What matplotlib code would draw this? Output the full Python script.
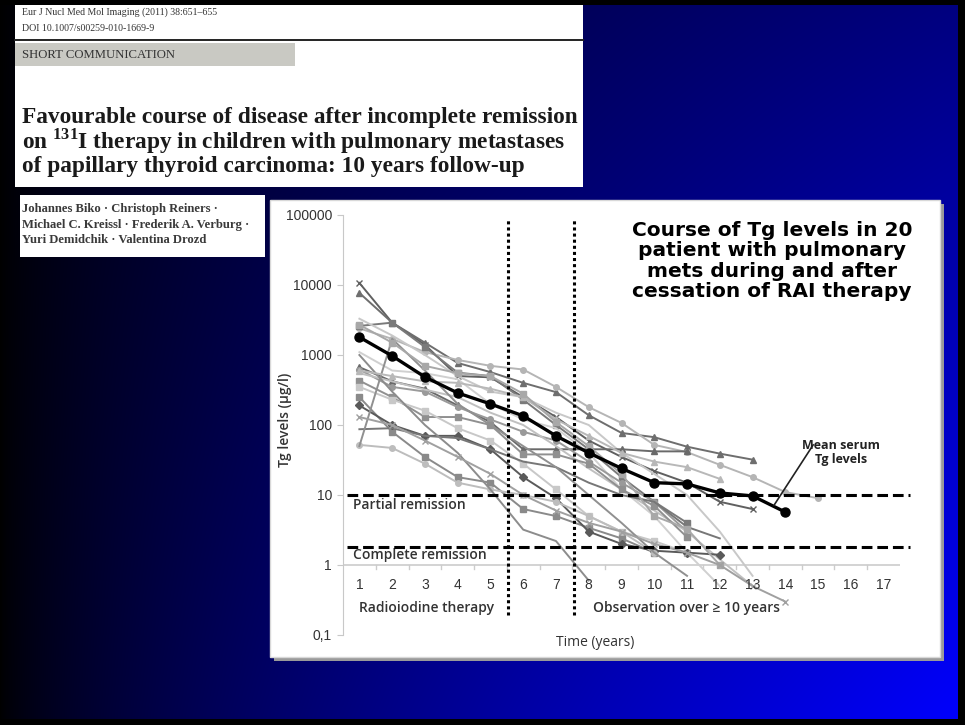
import numpy as np
import matplotlib

matplotlib.use("Agg")
import matplotlib.pyplot as plt
from matplotlib.patches import Rectangle

W, H = 965, 725

# mean serum Tg (black line), years 1..14
mean_years = list(range(1, 15))
mean_tg = [1800, 970, 485, 287, 200, 135, 70, 40, 24, 15, 14.4, 10.7, 9.7, 5.7]

# individual patients, value per year starting at year 1
p01 = [10700, 2900, 1400, 500, 480, 250, 130, 60, 35, 22, 15, 8, 6.3]
p02 = [7700, 2900, 1500, 770, 570, 400, 295, 138, 77, 67, 49, 39, 32]
p03 = [2400, 1700, 1100, 850, 700, 620, 350, 180, 107, 52, 41, 27, 18, 11, 9]
p04 = [2600, 2900, 1300, 560, 500, 230, 100, 45, 18, 8, 4]
p05 = [3300, 1900, 1000, 500, 300, 250, 150, 100, 40, 20, 10, 3, 0.7]
p06 = [1100, 600, 550, 450, 200, 120, 90, 40, 12, 5, 1.5, 0.5]
p07 = [670, 420, 330, 190, 110, 45, 45, 45, 45, 42, 42]
p08 = [620, 350, 300, 180, 120, 80, 60, 30, 15, 8, 3]
p09 = [550, 420, 320, 250, 150, 100, 50, 24, 12, 6, 3, 1.2, 0.5]
p10 = [430, 250, 130, 130, 100, 38, 38, 28, 12, 7, 2.5]
p11 = [350, 230, 160, 90, 60, 28, 12, 5, 3, 2.2, 1.5]
p12 = [250, 80, 35, 18, 15, 6.3, 5, 3.4, 2.4, 1.5]
p13 = [190, 100, 70, 70, 45, 18, 9, 3, 2, 1.6, 1.5, 1.4]
p14 = [87, 90, 70, 65, 45, 30, 25, 15, 10, 8, 3.5, 2.4]
p15 = [52, 47, 28, 15, 12, 10, 8, 5, 3, 1.5]
p16 = [50, 1700, 600, 200, 100, 50, 25, 10, 4, 1.5, 0.7]
p17 = [1000, 300, 100, 40, 12, 3.2, 2.2, 0.6]
p18 = [600, 500, 420, 400, 330, 250, 120, 70, 40, 30, 25, 17]
p19 = [2700, 1500, 700, 550, 500, 280, 110, 50, 20, 5, 3.3, 1.0]
p20 = [130, 100, 60, 35, 20, 10, 6, 4, 3, 2, 1.5, 1.0, 0.5, 0.3]
patients = [p01, p02, p03, p04, p05, p06, p07, p08, p09, p10,
            p11, p12, p13, p14, p15, p16, p17, p18, p19, p20]
patient_colors = ["#606060", "#6e6e6e", "#b5b5b5", "#7a7a7a", "#c8c8c8",
                  "#d0d0d0", "#6a6a6a", "#9a9a9a", "#c0c0c0", "#909090",
                  "#c8c8c8", "#8a8a8a", "#5a5a5a", "#777777", "#bdbdbd",
                  "#909090", "#8c8c8c", "#b8b8b8", "#a8a8a8", "#a0a0a0"]
patient_markers = ["x", "^", "o", "s", "", "", "^", "o", "", "s",
                   "s", "s", "D", "", "o", "", "", "^", "s", "x"]

ytick_vals = [0.1, 1, 10, 100, 1000, 10000, 100000]
ytick_labels = ["0,1", "1", "10", "100", "1000", "10000", "100000"]
xtick_vals = list(range(1, 18))

fig = plt.figure(figsize=(W / 100, H / 100), dpi=100)

# slide background: black to blue gradient, drawn in pixel coordinates
bg = fig.add_axes([0, 0, 1, 1])
gx, gy = np.meshgrid(np.linspace(0, 1, W), np.linspace(0, 1, H))
blue = np.clip((gx ** 0.7) * (0.5 + 0.5 * gy), 0, 1)
img = np.zeros((H, W, 3))
img[..., 2] = blue
img[:5, :, :] = 0
img[:, 958:, :] = 0
img[719:, :, :] = 0
bg.imshow(img, extent=(0, W, H, 0), aspect="auto")
bg.set_xlim(0, W)
bg.set_ylim(H, 0)
bg.axis("off")

serif = "Liberation Serif"
sans = "Liberation Sans"
plt.rcParams["mathtext.fontset"] = "custom"
plt.rcParams["mathtext.rm"] = serif
plt.rcParams["mathtext.bf"] = serif + ":bold"

# article header box
bg.add_patch(Rectangle((15, 5), 568, 182, facecolor="white", edgecolor="none"))
bg.text(22, 12, "Eur J Nucl Med Mol Imaging (2011) 38:651\u2013655", fontsize=7.1,
        family=serif, color="#333333", va="center")
bg.text(22, 28, "DOI 10.1007/s00259-010-1669-9", fontsize=7.1, family=serif,
        color="#333333", va="center")
bg.plot([15, 583], [40, 40], color="#222222", lw=1.4)
bg.add_patch(Rectangle((15, 43), 280, 23, facecolor="#c9c9c3", edgecolor="none"))
bg.text(22, 55, "SHORT COMMUNICATION", fontsize=9.2, family=serif,
        color="#333333", va="center")
title_lines = ["Favourable course of disease after incomplete remission",
               r"on $^{\mathbf{131}}$I therapy in children with pulmonary metastases",
               "of papillary thyroid carcinoma: 10 years follow-up"]
for i, line in enumerate(title_lines):
    bg.text(22, 117 + 24.5 * i, line, fontsize=16.8, family=serif,
            weight="bold", color="#1a1a1a", va="center")

# authors box
bg.add_patch(Rectangle((20, 195), 245, 62, facecolor="white", edgecolor="none"))
author_lines = ["Johannes Biko \u00b7 Christoph Reiners \u00b7",
                "Michael C. Kreissl \u00b7 Frederik A. Verburg \u00b7",
                "Yuri Demidchik \u00b7 Valentina Drozd"]
for i, line in enumerate(author_lines):
    bg.text(22, 209 + 15.5 * i, line, fontsize=9.1, family=serif,
            weight="bold", color="#3a3a3a", va="center")

# chart box with shadow
bg.add_patch(Rectangle((274, 204), 670, 457, facecolor="#9a9a9a", edgecolor="none"))
bg.add_patch(Rectangle((270, 200), 670, 457, facecolor="white",
                       edgecolor="#d8d8d8", lw=1))

bg.text(772, 261, "Course of Tg levels in 20\npatient with pulmonary\n"
        "mets during and after\ncessation of RAI therapy",
        fontsize=14.5, weight="bold", ha="center", va="center",
        linespacing=1.1, color="black")

# data axes
ax = fig.add_axes([343 / W, 1 - 635 / H, (900 - 343) / W, (635 - 215) / H])
ax.set_facecolor("none")
ax.set_yscale("log")
ax.set_xlim(0.5, 17.5)
ax.set_ylim(0.1, 100000)
for side in ["top", "right", "bottom"]:
    ax.spines[side].set_visible(False)
ax.spines["left"].set_color("#c8c8c8")
ax.set_yticks(ytick_vals)
ax.set_yticklabels(ytick_labels, family=sans, fontsize=10, color="#333333")
ax.yaxis.set_minor_locator(matplotlib.ticker.NullLocator())
ax.tick_params(axis="y", length=4, color="#c8c8c8", pad=4)
ax.set_xticks([])

# horizontal category axis crossing at 1
ax.axhline(1, color="#cccccc", lw=1.2, zorder=1)
for xv in xtick_vals[:-1]:
    ax.plot([xv + 0.5, xv + 0.5], [1, 0.87], color="#cccccc", lw=1, zorder=1)
for xv in xtick_vals:
    ax.text(xv, 0.52, str(xv), family=sans, fontsize=10, color="#333333",
            ha="center", va="center")

for vals, col, mk in zip(patients, patient_colors, patient_markers):
    ax.plot(range(1, len(vals) + 1), vals, color=col, lw=1.4, marker=mk or None,
            markersize=4, markeredgewidth=1, zorder=2)

ax.plot(mean_years, mean_tg, color="black", lw=2.4, marker="o", markersize=6.5,
        zorder=4)

# remission thresholds and phase separators
for yv in [10, 1.8]:
    ax.plot([0.63, 17.8], [yv, yv], color="black", lw=2.2,
            linestyle=(0, (3.5, 1.6)), clip_on=False, zorder=5)
for xv in [5.55, 7.55]:
    ax.plot([xv, xv], [0.19, 90000], color="black", lw=2.2,
            linestyle=(0, (1, 1)), zorder=5)

label_kw = dict(family="Open Sans", fontsize=10, weight="semibold", color="#333333",
                va="center")
ax.text(0.81, 7.2, "Partial remission", **label_kw)
ax.text(0.81, 1.4, "Complete remission", **label_kw)
ax.text(1.0, 0.243, "Radioiodine therapy", **label_kw)
ax.text(8.12, 0.243, "Observation over \u2265 10 years", **label_kw)
ax.text(8.2, 0.077, "Time (years)", ha="center", family="Open Sans", fontsize=10,
        color="#333333", va="center")
ax.text(-1.27, 117, "Tg levels (\u00b5g/l)", rotation=90, ha="center",
        **label_kw)

ax.text(15.7, 40, "Mean serum\nTg levels", ha="center", va="center",
        family="Open Sans", fontsize=9, weight="bold", color="#222222",
        linespacing=1.1)
ax.plot([14.85, 13.66], [52, 7.2], color="#222222", lw=1.2, zorder=6)

fig.savefig("out.png", dpi=100)
